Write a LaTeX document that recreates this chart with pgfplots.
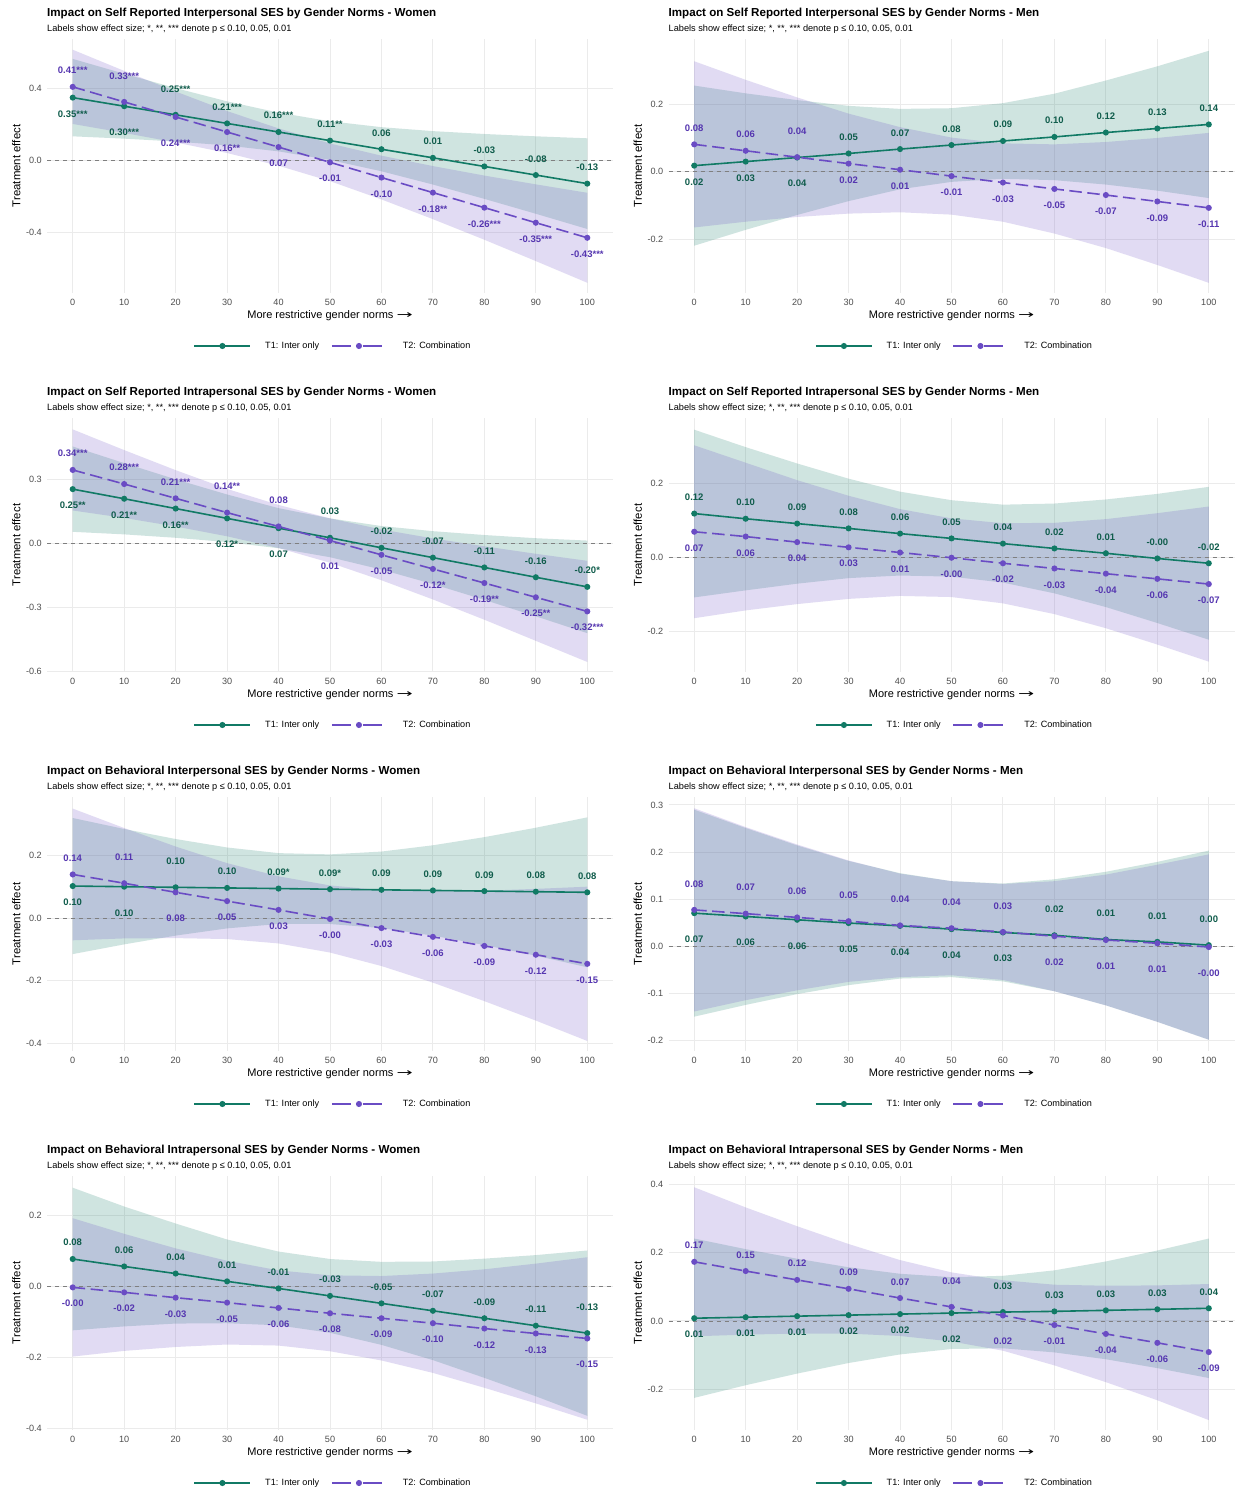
\documentclass[border=0pt]{standalone}
\usepackage{fontspec}
\setmainfont{Liberation Sans}
\newfontfamily\dejavu{DejaVu Sans}
\usepackage{graphicx}
\usepackage{pgfplots}
\pgfplotsset{compat=1.18}
\usepackage{pgfplotstable}
\definecolor{cg}{HTML}{117A65}
\definecolor{cp}{HTML}{6A4CC4}
\definecolor{cgt}{HTML}{0F5C4B}
\definecolor{cpt}{HTML}{5536B0}
\definecolor{gridc}{HTML}{EBEBEB}
\definecolor{tickc}{HTML}{4D4D4D}
\definecolor{zeroc}{HTML}{7F7F7F}
\newcommand\lab{\fontsize{9.5}{10}\selectfont\bfseries}

% main tables: x, T1 estimate, T2 estimate, labels, label side
\pgfplotstableread{
x t1 t2 l1 d1 l2 d2
0 0.350 0.410 0.35*** -1 0.41*** 1
10 0.302 0.326 0.30*** -1.6 0.33*** 1.6
20 0.254 0.242 0.25*** 1.6 0.24*** -1.6
30 0.206 0.158 0.21*** 1 0.16** -1
40 0.158 0.074 0.16*** 1 0.07 -1
50 0.110 -0.011 0.11** 1 -0.01 -1
60 0.062 -0.096 0.06 1 -0.10 -1
70 0.014 -0.180 0.01 1 -0.18** -1
80 -0.034 -0.264 -0.03 1 -0.26*** -1
90 -0.082 -0.348 -0.08 1 -0.35*** -1
100 -0.130 -0.432 -0.13 1 -0.43*** -1
}\tabA
\pgfplotstableread{
x g p
0 0.566 0.617
10 0.483 0.499
20 0.403 0.384
30 0.329 0.275
40 0.266 0.178
50 0.218 0.094
60 0.185 0.026
70 0.163 -0.032
80 0.147 -0.085
90 0.134 -0.134
100 0.123 -0.181
100 -0.383 -0.683
90 -0.298 -0.562
80 -0.215 -0.443
70 -0.135 -0.328
60 -0.061 -0.218
50 0.002 -0.116
40 0.050 -0.030
30 0.083 0.041
20 0.105 0.100
10 0.121 0.153
0 0.134 0.203
}\bandA
\pgfplotstableread{
x t1 t2 l1 d1 l2 d2
0 0.018 0.081 0.02 -1 0.08 1
10 0.030 0.062 0.03 -1 0.06 1
20 0.042 0.043 0.04 -1.6 0.04 1.6
30 0.054 0.024 0.05 1 0.02 -1
40 0.067 0.006 0.07 1 0.01 -1
50 0.079 -0.013 0.08 1 -0.01 -1
60 0.091 -0.032 0.09 1 -0.03 -1
70 0.103 -0.051 0.10 1 -0.05 -1
80 0.116 -0.069 0.12 1 -0.07 -1
90 0.128 -0.088 0.13 1 -0.09 -1
100 0.140 -0.107 0.14 1 -0.11 -1
}\tabB
\pgfplotstableread{
x g p
0 0.255 0.327
10 0.232 0.272
20 0.212 0.220
30 0.195 0.172
40 0.186 0.132
50 0.188 0.101
60 0.203 0.084
70 0.231 0.081
80 0.270 0.088
90 0.312 0.100
100 0.358 0.115
100 -0.078 -0.329
90 -0.056 -0.276
80 -0.038 -0.226
70 -0.025 -0.183
60 -0.021 -0.148
50 -0.030 -0.127
40 -0.052 -0.120
30 -0.087 -0.124
20 -0.128 -0.134
10 -0.172 -0.148
0 -0.219 -0.165
}\bandB
\pgfplotstableread{
x t1 t2 l1 d1 l2 d2
0 0.254 0.344 0.25** -1 0.34*** 1
10 0.209 0.278 0.21** -1 0.28*** 1
20 0.163 0.211 0.16** -1 0.21*** 1
30 0.117 0.144 0.12* -1.6 0.14** 1.6
40 0.071 0.079 0.07 -1.6 0.08 1.6
50 0.026 0.013 0.03 1.6 0.01 -1.6
60 -0.021 -0.054 -0.02 1 -0.05 -1
70 -0.067 -0.120 -0.07 1 -0.12* -1
80 -0.113 -0.186 -0.11 1 -0.19** -1
90 -0.159 -0.253 -0.16 1 -0.25** -1
100 -0.204 -0.319 -0.20* 1 -0.32*** -1
}\tabC
\pgfplotstableread{
x g p
0 0.454 0.534
10 0.376 0.437
20 0.300 0.343
30 0.229 0.255
40 0.165 0.180
50 0.117 0.117
60 0.081 0.065
70 0.057 0.023
80 0.039 -0.014
90 0.024 -0.049
100 0.013 -0.082
100 -0.421 -0.556
90 -0.342 -0.457
80 -0.265 -0.358
70 -0.191 -0.263
60 -0.123 -0.173
50 -0.065 -0.091
40 -0.023 -0.022
30 0.006 0.033
20 0.026 0.079
10 0.042 0.119
0 0.054 0.154
}\bandC
\pgfplotstableread{
x t1 t2 l1 d1 l2 d2
0 0.118 0.069 0.12 1 0.07 -1
10 0.104 0.056 0.10 1 0.06 -1
20 0.091 0.041 0.09 1 0.04 -1
30 0.078 0.027 0.08 1 0.03 -1
40 0.064 0.013 0.06 1 0.01 -1
50 0.051 -0.001 0.05 1 -0.00 -1
60 0.037 -0.016 0.04 1 -0.02 -1
70 0.024 -0.030 0.02 1 -0.03 -1
80 0.011 -0.044 0.01 1 -0.04 -1
90 -0.003 -0.058 -0.00 1 -0.06 -1
100 -0.016 -0.072 -0.02 1 -0.07 -1
}\tabD
\pgfplotstableread{
x g p
0 0.344 0.302
10 0.297 0.255
20 0.253 0.208
30 0.212 0.166
40 0.177 0.130
50 0.154 0.105
60 0.142 0.092
70 0.145 0.093
80 0.156 0.103
90 0.171 0.119
100 0.190 0.137
100 -0.222 -0.281
90 -0.177 -0.235
80 -0.134 -0.191
70 -0.097 -0.153
60 -0.068 -0.124
50 -0.052 -0.107
40 -0.049 -0.104
30 -0.056 -0.112
20 -0.071 -0.126
10 -0.089 -0.143
0 -0.108 -0.164
}\bandD
\pgfplotstableread{
x t1 t2 l1 d1 l2 d2
0 0.102 0.139 0.10 -1 0.14 1
10 0.100 0.111 0.10 -1.6 0.11 1.6
20 0.098 0.082 0.10 1.6 0.08 -1.6
30 0.096 0.054 0.10 1 0.05 -1
40 0.094 0.026 0.09* 1 0.03 -1
50 0.092 -0.003 0.09* 1 -0.00 -1
60 0.090 -0.032 0.09 1 -0.03 -1
70 0.088 -0.060 0.09 1 -0.06 -1
80 0.086 -0.089 0.09 1 -0.09 -1
90 0.084 -0.117 0.08 1 -0.12 -1
100 0.082 -0.146 0.08 1 -0.15 -1
}\tabE
\pgfplotstableread{
x g p
0 0.319 0.349
10 0.284 0.287
20 0.252 0.228
30 0.225 0.175
40 0.207 0.133
50 0.203 0.104
60 0.212 0.089
70 0.232 0.086
80 0.258 0.087
90 0.288 0.093
100 0.321 0.100
100 -0.157 -0.392
90 -0.120 -0.327
80 -0.086 -0.265
70 -0.056 -0.206
60 -0.032 -0.153
50 -0.019 -0.110
40 -0.019 -0.081
30 -0.033 -0.067
20 -0.056 -0.064
10 -0.084 -0.065
0 -0.115 -0.071
}\bandE
\pgfplotstableread{
x t1 t2 l1 d1 l2 d2
0 0.070 0.077 0.07 -1.6 0.08 1.6
10 0.063 0.069 0.06 -1.6 0.07 1.6
20 0.056 0.061 0.06 -1.6 0.06 1.6
30 0.049 0.053 0.05 -1.6 0.05 1.6
40 0.043 0.044 0.04 -1.6 0.04 1.6
50 0.036 0.038 0.04 -1.6 0.04 1.6
60 0.029 0.030 0.03 -1.6 0.03 1.6
70 0.023 0.021 0.02 1.6 0.02 -1.6
80 0.014 0.013 0.01 1.6 0.01 -1.6
90 0.009 0.006 0.01 1.6 0.01 -1.6
100 0.002 -0.002 0.00 1.6 -0.00 -1.6
}\tabF
\pgfplotstableread{
x g p
0 0.290 0.293
10 0.251 0.253
20 0.214 0.216
30 0.181 0.182
40 0.155 0.154
50 0.138 0.138
60 0.133 0.132
70 0.142 0.138
80 0.158 0.152
90 0.179 0.173
100 0.203 0.195
100 -0.199 -0.199
90 -0.161 -0.161
80 -0.126 -0.126
70 -0.096 -0.096
60 -0.075 -0.072
50 -0.066 -0.062
40 -0.069 -0.066
30 -0.083 -0.076
20 -0.102 -0.094
10 -0.125 -0.115
0 -0.150 -0.139
}\bandF
\pgfplotstableread{
x t1 t2 l1 d1 l2 d2
0 0.077 -0.003 0.08 1 -0.00 -1
10 0.056 -0.017 0.06 1 -0.02 -1
20 0.036 -0.032 0.04 1 -0.03 -1
30 0.014 -0.046 0.01 1 -0.05 -1
40 -0.006 -0.061 -0.01 1 -0.06 -1
50 -0.027 -0.076 -0.03 1 -0.08 -1
60 -0.048 -0.090 -0.05 1 -0.09 -1
70 -0.069 -0.104 -0.07 1 -0.10 -1
80 -0.090 -0.119 -0.09 1 -0.12 -1
90 -0.111 -0.133 -0.11 1 -0.13 -1
100 -0.132 -0.147 -0.13 1.6 -0.15 -1.6
}\tabG
\pgfplotstableread{
x g p
0 0.278 0.192
10 0.225 0.148
20 0.177 0.107
30 0.132 0.072
40 0.098 0.045
50 0.077 0.031
60 0.069 0.029
70 0.070 0.036
80 0.078 0.048
90 0.088 0.064
100 0.101 0.082
100 -0.365 -0.376
90 -0.310 -0.330
80 -0.258 -0.286
70 -0.208 -0.244
60 -0.165 -0.209
50 -0.131 -0.183
40 -0.110 -0.167
30 -0.104 -0.164
20 -0.105 -0.171
10 -0.113 -0.182
0 -0.124 -0.198
}\bandG
\pgfplotstableread{
x t1 t2 l1 d1 l2 d2
0 0.008 0.173 0.01 -1 0.17 1
10 0.011 0.146 0.01 -1 0.15 1
20 0.014 0.120 0.01 -1 0.12 1
30 0.017 0.094 0.02 -1 0.09 1
40 0.020 0.067 0.02 -1 0.07 1
50 0.023 0.041 0.02 -1.6 0.04 1.6
60 0.026 0.016 0.03 1.6 0.02 -1.6
70 0.028 -0.012 0.03 1 -0.01 -1
80 0.031 -0.038 0.03 1 -0.04 -1
90 0.034 -0.064 0.03 1 -0.06 -1
100 0.037 -0.091 0.04 1 -0.09 -1
}\tabH
\pgfplotstableread{
x g p
0 0.241 0.391
10 0.210 0.332
20 0.182 0.277
30 0.157 0.225
40 0.138 0.178
50 0.128 0.142
60 0.132 0.119
70 0.148 0.106
80 0.174 0.103
90 0.206 0.104
100 0.241 0.108
100 -0.167 -0.290
90 -0.138 -0.232
80 -0.112 -0.179
70 -0.092 -0.130
60 -0.080 -0.087
50 -0.082 -0.060
40 -0.098 -0.044
30 -0.123 -0.037
20 -0.154 -0.037
10 -0.188 -0.040
0 -0.225 -0.045
}\bandH

\pgfplotsset{
  panel/.style={
    scale only axis, width=566pt, height=254pt,
    xmin=-5, xmax=105,
    axis line style={draw=none},
    major tick length=0pt,
    grid=major, major grid style={color=gridc, line width=1pt},
    xtick={0,10,...,100}, xticklabels={0,10,20,30,40,50,60,70,80,90,100},
    tick label style={font=\fontsize{9.1}{10}\selectfont, text=tickc},
    xticklabel style={anchor=north, inner sep=0pt, yshift=-6pt},
    yticklabel style={anchor=east, inner sep=0pt, xshift=-5pt},
    legend columns=2,
    legend cell align=left,
    legend style={at={(0.5053,-0.2087)}, anchor=center, draw=none, fill=none,
      font=\fontsize{9.1}{10}\selectfont, inner sep=0pt,
      /tikz/every odd column/.append style={column sep=12pt},
      /tikz/every even column/.append style={column sep=10pt}},
  },
}

\newcommand{\panel}[9]{%
\pgfmathsetmacro\PX{#1}%
\pgfmathsetmacro\PY{1490-#2}%
\pgfmathsetmacro\OFF{(#7-(#6))*16.3/254}%
\node[anchor=base west, inner sep=0pt, font=\fontsize{11.6}{13}\selectfont\bfseries] at (\PX pt, \PY pt-16.3pt) {#3};
\node[anchor=base west, inner sep=0pt, font=\fontsize{9.2}{11}\selectfont] at (\PX pt, \PY pt-31.6pt) {Labels show effect size; *, **, *** denote p ≤ 0.10, 0.05, 0.01};
\node[anchor=base, inner sep=0pt, font=\fontsize{11}{13}\selectfont] at (\PX pt+283pt, \PY pt-319pt) {More restrictive gender norms {\dejavu\scalebox{1.75}[1]{→}}};
\node[rotate=90, anchor=center, inner sep=0pt, font=\fontsize{11.4}{13}\selectfont] at (\PX pt-30.6pt, \PY pt-166pt) {Treatment effect};
\begin{axis}[panel, at={(\PX pt,\PY pt-293pt)}, anchor=south west,
  ymin=#6, ymax=#7, ytick={#8}, yticklabels={#9}]
\addplot[fill=cg, fill opacity=0.2, draw=none, forget plot] table[x=x, y=g] {#5} -- cycle;
\addplot[fill=cp, fill opacity=0.2, draw=none, forget plot] table[x=x, y=p] {#5} -- cycle;
\addplot[forget plot, color=zeroc, line width=0.8pt, dash pattern=on 4pt off 4pt] coordinates {(-5,0) (105,0)};
\addplot[cg, line width=1.6pt, mark=*, mark size=2.2pt,
  legend image code/.code={\draw[cg, line width=1.6pt, mark=*, mark size=2.2pt, mark repeat=2, mark phase=2] plot coordinates {(0pt,0pt) (28pt,0pt) (56pt,0pt)};}]
  table[x=x, y=t1] {#4};
\addlegendentry{T1: Inter only}
\addplot[cp, line width=1.6pt, dash pattern=on 12.5pt off 5.5pt, mark=*, mark size=2.2pt, mark options={solid},
  legend image code/.code={\draw[cp, line width=1.6pt, dash pattern=on 19pt off 12pt, mark=*, mark size=2.2pt, mark options={solid}, mark repeat=2, mark phase=2] plot coordinates {(0pt,0pt) (27pt,0pt) (56pt,0pt)};}]
  table[x=x, y=t2] {#4};
\addlegendentry{T2: Combination}
\addplot[forget plot, draw=none, mark=none, cgt, nodes near coords, point meta=explicit symbolic,
  nodes near coords style={font=\lab, text=cgt, anchor=center, inner sep=0pt}]
  table[x=x, y expr=\thisrow{t1}+\thisrow{d1}*\OFF, meta=l1] {#4};
\addplot[forget plot, draw=none, mark=none, cpt, nodes near coords, point meta=explicit symbolic,
  nodes near coords style={font=\lab, text=cpt, anchor=center, inner sep=0pt}]
  table[x=x, y expr=\thisrow{t2}+\thisrow{d2}*\OFF, meta=l2] {#4};
\end{axis}}

\begin{document}
\begin{tikzpicture}
\path[use as bounding box, fill=white] (0pt,0pt) rectangle (1236pt,1490pt);
\panel{47}{0}{Impact on Self Reported Interpersonal SES by Gender Norms - Women}{\tabA}{\bandA}{-0.740}{0.677}{-0.4,0,0.4}{-0.4,0.0,0.4}
\panel{668.5}{0}{Impact on Self Reported Interpersonal SES by Gender Norms - Men}{\tabB}{\bandB}{-0.359}{0.393}{-0.2,0,0.2}{-0.2,0.0,0.2}
\panel{47}{379}{Impact on Self Reported Intrapersonal SES by Gender Norms - Women}{\tabC}{\bandC}{-0.603}{0.5875}{-0.6,-0.3,0,0.3}{-0.6,-0.3,0.0,0.3}
\panel{668.5}{379}{Impact on Self Reported Intrapersonal SES by Gender Norms - Men}{\tabD}{\bandD}{-0.309}{0.3756}{-0.2,0,0.2}{-0.2,0.0,0.2}
\panel{47}{758}{Impact on Behavioral Interpersonal SES by Gender Norms - Women}{\tabE}{\bandE}{-0.424}{0.386}{-0.4,-0.2,0,0.2}{-0.4,-0.2,0.0,0.2}
\panel{668.5}{758}{Impact on Behavioral Interpersonal SES by Gender Norms - Men}{\tabF}{\bandF}{-0.223}{0.317}{-0.2,-0.1,0,0.1,0.2,0.3}{-0.2,-0.1,0.0,0.1,0.2,0.3}
\panel{47}{1137}{Impact on Behavioral Intrapersonal SES by Gender Norms - Women}{\tabG}{\bandG}{-0.405}{0.311}{-0.4,-0.2,0,0.2}{-0.4,-0.2,0.0,0.2}
\panel{668.5}{1137}{Impact on Behavioral Intrapersonal SES by Gender Norms - Men}{\tabH}{\bandH}{-0.319}{0.424}{-0.2,0,0.2,0.4}{-0.2,0.0,0.2,0.4}
\end{tikzpicture}
\end{document}
